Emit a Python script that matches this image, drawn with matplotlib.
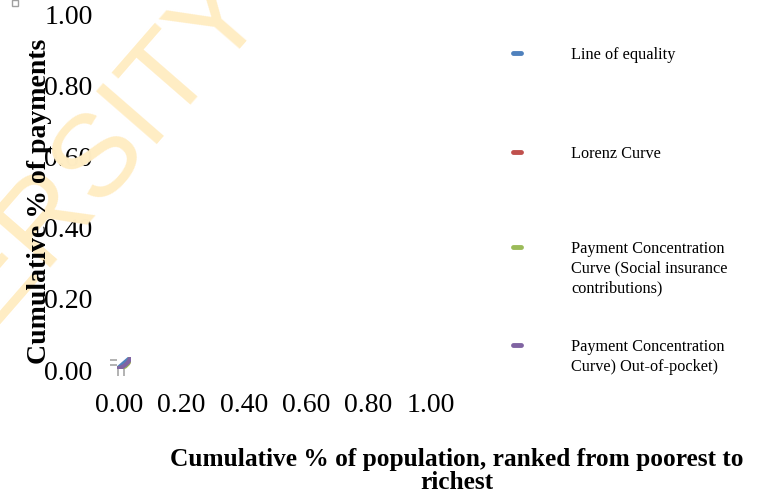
import numpy as np
import matplotlib.pyplot as plt
from matplotlib.lines import Line2D
from matplotlib.patches import Rectangle

# cumulative shares (population ranked poorest -> richest)
pop_share = [0.0, 0.2, 0.4, 0.6, 0.8, 1.0]
equality = [0.0, 0.2, 0.4, 0.6, 0.8, 1.0]
lorenz = [0.0, 0.05, 0.14, 0.28, 0.50, 1.0]
social_ins = [0.0, 0.03, 0.10, 0.22, 0.45, 1.0]
out_of_pocket = [0.0, 0.07, 0.18, 0.34, 0.57, 1.0]

tick_vals = [0.0, 0.2, 0.4, 0.6, 0.8, 1.0]
tick_labels = ["0.00", "0.20", "0.40", "0.60", "0.80", "1.00"]

series_names = ["Line of equality", "Lorenz Curve",
                "Payment Concentration\nCurve (Social insurance\ncontributions)",
                "Payment Concentration\nCurve) Out-of-pocket)"]
colors = ["#4F81BD", "#C0504D", "#9BBB59", "#8064A2"]

W, H = 767, 495
fig = plt.figure(figsize=(W / 100, H / 100), dpi=100)

def px(x, y):
    return x / W, 1 - y / H

serif = ["Liberation Serif", "DejaVu Serif"]

# watermark
fig.text(*px(266, 8), "UNIVERSITY", rotation=49, rotation_mode="anchor",
         ha="right", va="baseline", fontsize=84, color="#FFEDC4",
         family="Liberation Sans", zorder=0)

# little selection handle in the corner
fig.add_artist(Rectangle(px(12, 6), 6 / W, 6 / H, fill=False,
                         edgecolor="#A0A0A0", lw=1, transform=fig.transFigure))

# main (empty) axes carrying the tick labels
ax = fig.add_axes([119 / W, 1 - 370 / H, 312 / W, 356 / H])
ax.patch.set_visible(False)
ax.set_xlim(0, 1)
ax.set_ylim(0, 1)
for s in ax.spines.values():
    s.set_visible(False)
ax.set_xticks(tick_vals)
ax.set_xticklabels(tick_labels, family=serif, fontsize=20)
ax.set_yticks(tick_vals)
ax.set_yticklabels(tick_labels, family=serif, fontsize=20)
ax.tick_params(axis="x", length=0, pad=16.5)
ax.tick_params(axis="y", length=0, pad=19)

# the tiny plot actually drawn near the origin
ins = fig.add_axes([117 / W, 1 - 369 / H, 14 / W, 12 / H])
ins.patch.set_visible(False)
ins.set_xlim(0, 1)
ins.set_ylim(0, 1)
for s in ins.spines.values():
    s.set_visible(False)
ins.set_xticks([0.1, 0.5])
ins.set_yticks([0.35, 0.75])
ins.set_xticklabels([])
ins.set_yticklabels([])
ins.tick_params(length=5, width=1.2, color="#A6A6A6", direction="out", pad=0)
for yv, c in zip([equality, lorenz, social_ins, out_of_pocket], colors):
    ins.plot(pop_share, yv, color=c, lw=3, solid_capstyle="round")

# axis titles
fig.text(*px(40, 201), "Cumulative % of payments", rotation=90,
         ha="center", va="center", fontsize=20, fontweight="bold", family=serif)
fig.text(*px(457, 471), "Cumulative % of population, ranked from poorest to\nrichest",
         ha="center", va="center", fontsize=18.3, fontweight="bold", family=serif,
         linespacing=1.05)

# legend
legend_y = [53, 152, 247, 345]
for name, c, y in zip(series_names, colors, legend_y):
    x0, y0 = px(513, y)
    x1, _ = px(521, y)
    fig.add_artist(Line2D([x0, x1], [y0, y0], color=c, lw=3.5,
                          solid_capstyle="round", transform=fig.transFigure))
    fig.text(*px(571, y - 6), name, ha="left", va="top", fontsize=11.7,
             family=serif, linespacing=1.32)

fig.savefig("out.png", dpi=100)
